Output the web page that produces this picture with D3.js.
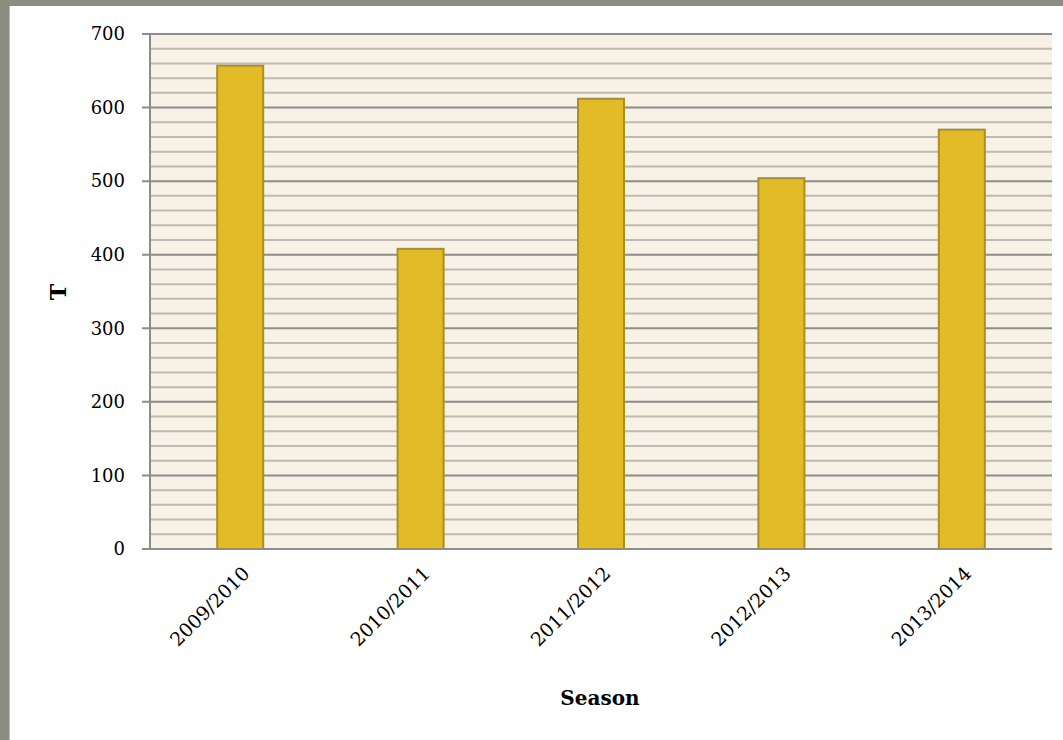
<!DOCTYPE html>
<html>
<head>
<meta charset="utf-8">
<script src="https://cdn.jsdelivr.net/npm/d3@7"></script>
<style>
  body { margin: 0; background: #8b8d80; }
  svg { display: block; }
</style>
</head>
<body>
<svg width="1063" height="740"></svg>
<script>
const seasons = ["2009/2010", "2010/2011", "2011/2012", "2012/2013", "2013/2014"];
const values = [657, 408, 612, 504, 570];
const yTicks = [0, 100, 200, 300, 400, 500, 600, 700];

const svg = d3.select("svg");

const attr_area = {
    left: 150,
    right: 1052,
    top: 34,
    bottom: 549
};

// grey frame + white panel
svg.append("rect")
   .attr("width", 1063).attr("height", 740)
   .style("fill", "#8b8d80");
svg.append("rect")
   .attr("x", 9).attr("y", 6)
   .attr("width", 1054).attr("height", 734)
   .style("fill", "#ffffff");
svg.append("line")
   .attr("x1", 9.5).attr("x2", 9.5).attr("y1", 6).attr("y2", 740)
   .style("stroke", "#b8b9b2");

const scaleX = d3.scaleBand()
                 .domain(seasons)
                 .range([attr_area.left, attr_area.right]);

const scaleY = d3.scaleLinear()
                 .domain([0, 700])
                 .range([attr_area.bottom, attr_area.top]);

// plot background
svg.append("rect")
   .attr("x", attr_area.left)
   .attr("y", attr_area.top)
   .attr("width", attr_area.right - attr_area.left)
   .attr("height", attr_area.bottom - attr_area.top)
   .style("fill", "#f8f1e6");

// minor grid every 20
const minor = d3.range(20, 700, 20).filter(v => v % 100 != 0);
svg.selectAll(".minor")
   .data(minor)
   .enter()
   .append("line")
   .attr("x1", attr_area.left)
   .attr("x2", attr_area.right)
   .attr("y1", d => scaleY(d))
   .attr("y2", d => scaleY(d))
   .style("stroke", "#bdbab4")
   .style("stroke-width", 2);

// major grid
svg.selectAll(".major")
   .data(yTicks.filter(d => d > 0))
   .enter()
   .append("line")
   .attr("x1", attr_area.left - 8)
   .attr("x2", attr_area.right)
   .attr("y1", d => scaleY(d))
   .attr("y2", d => scaleY(d))
   .style("stroke", "#8c8c8c")
   .style("stroke-width", 2);

// bars
const barWidth = scaleX.bandwidth() * 0.255;
svg.selectAll(".bar")
   .data(values)
   .enter()
   .append("rect")
   .attr("x", (d, i) => scaleX(seasons[i]) + scaleX.bandwidth() / 2 - barWidth / 2)
   .attr("y", d => scaleY(d))
   .attr("width", barWidth)
   .attr("height", d => scaleY(0) - scaleY(d))
   .style("fill", "#e3bb29")
   .style("stroke", "#aa8f1f")
   .style("stroke-width", 2);

// axes lines
svg.append("line")
   .attr("x1", attr_area.left).attr("x2", attr_area.left)
   .attr("y1", attr_area.top).attr("y2", attr_area.bottom)
   .style("stroke", "#8c8c8c").style("stroke-width", 2);
svg.append("line")
   .attr("x1", attr_area.left - 8).attr("x2", attr_area.right)
   .attr("y1", attr_area.bottom).attr("y2", attr_area.bottom)
   .style("stroke", "#8c8c8c").style("stroke-width", 2);

const font = "'DejaVu Serif', 'Liberation Serif', serif";

// y tick labels
svg.selectAll(".ylab")
   .data(yTicks)
   .enter()
   .append("text")
   .attr("x", 125)
   .attr("y", d => scaleY(d))
   .attr("dy", "0.35em")
   .attr("text-anchor", "end")
   .style("font-family", font)
   .style("font-size", "18px")
   .text(d => d);

// x tick labels
svg.selectAll(".xlab")
   .data(seasons)
   .enter()
   .append("text")
   .attr("transform", d => `translate(${scaleX(d) + scaleX.bandwidth() / 2 + 6}, 570) rotate(-45)`)
   .attr("text-anchor", "end")
   .attr("dy", "0.35em")
   .style("font-family", font)
   .style("font-size", "19px")
   .text(d => d);

// axis titles
svg.append("text")
   .attr("x", 600)
   .attr("y", 705)
   .attr("text-anchor", "middle")
   .style("font-family", font)
   .style("font-size", "20px")
   .style("font-weight", "bold")
   .text("Season");

svg.append("text")
   .attr("transform", "translate(66, 292) rotate(-90)")
   .attr("text-anchor", "middle")
   .style("font-family", font)
   .style("font-size", "22px")
   .style("font-weight", "bold")
   .text("T");
</script>
</body>
</html>
